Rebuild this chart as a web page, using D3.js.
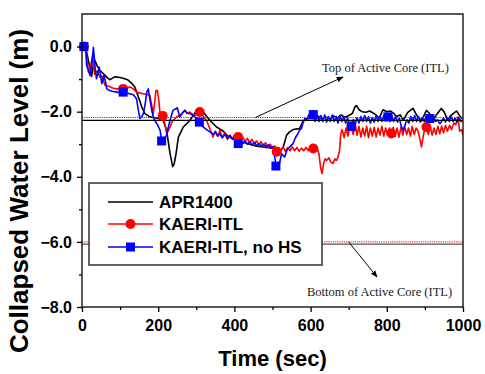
<!DOCTYPE html>
<html>
<head>
<meta charset="utf-8">
<script src="https://cdn.jsdelivr.net/npm/d3@7"></script>
<style>
  html, body { margin: 0; padding: 0; background: #fff; }
  svg { display: block; }
</style>
</head>
<body>
<svg id="chart" width="485" height="374"></svg>
<script>
// Collapsed water level transients, [time (s), level (m)]
const apr1400 = [
  [5,0.0],[10,-0.05],[18,-0.5],[25,-0.92],[30,-0.55],[34,-0.43],[40,-0.6],[47,-0.73],[55,-0.82],[65,-0.94],
  [73,-1.02],[80,-0.97],[87,-0.93],[100,-0.95],[110,-0.98],[121,-1.03],[130,-1.12],[139,-1.25],[148,-1.55],
  [157,-1.86],[165,-2.06],[178,-2.16],[199,-2.2],[213,-2.27],[222,-2.57],[231,-3.28],[238,-3.69],[242,-3.6],
  [247,-3.28],[253,-2.78],[266,-2.47],[283,-2.27],[301,-1.96],[309,-1.88],[318,-2.01],[336,-2.27],[353,-2.47],
  [371,-2.6],[380,-2.72],[390,-2.8],[400,-2.85],[412,-2.9],[425,-2.95],[440,-3.0],[455,-3.05],[470,-3.08],
  [485,-3.1],[500,-3.12],[512,-3.15],[519,-3.2],[528,-3.1],[537,-2.72],[545,-2.62],[554,-2.55],[571,-2.52],
  [580,-2.3],[589,-2.22],[600,-2.2],[610,-2.22],[620,-2.14],[630,-2.22],[640,-2.16],[650,-2.22],[660,-2.13],
  [670,-2.2],[680,-2.1],[690,-2.18],[700,-2.12],[710,-2.05],[716,-1.86],[720,-1.81],[728,-1.95],[735,-2.0],
  [745,-2.02],[755,-1.98],[765,-2.05],[772,-2.1],[780,-2.2],[790,-1.94],[800,-2.0],[810,-1.98],[818,-2.05],
  [825,-2.15],[835,-2.1],[843,-2.27],[855,-2.02],[862,-1.96],[869,-1.9],[878,-2.1],[891,-2.28],[904,-1.96],
  [912,-2.05],[921,-2.28],[930,-2.1],[943,-1.9],[950,-2.0],[960,-2.25],[968,-2.12],[975,-2.05],[983,-1.98],
  [990,-2.1],[997,-2.22]
];

const kaeriItl = [
  [5,0.0],[10,-0.05],[17,-0.79],[22,-0.6],[28,-0.3],[33,-0.85],[40,-0.75],[47,-0.94],[53,-0.9],[60,-1.19],
  [70,-1.22],[82,-1.28],[92,-1.3],[100,-1.32],[108,-1.3],[118,-1.27],[126,-1.24],[135,-1.3],[143,-1.4],
  [152,-1.43],[161,-1.45],[170,-1.47],[178,-1.5],[183,-1.8],[187,-2.06],[191,-1.7],[194,-1.35],[198,-1.35],
  [202,-1.7],[205,-2.06],[212,-2.13],[218,-2.4],[222,-2.67],[226,-2.6],[231,-2.47],[237,-2.3],[244,-2.21],
  [250,-2.15],[257,-2.11],[263,-2.05],[270,-1.96],[276,-2.05],[283,-2.01],[290,-2.08],[296,-2.11],[303,-2.05],
  [309,-2.01],[316,-2.1],[322,-2.2],[327,-2.27],[333,-2.45],[338,-2.6],[344,-2.78],[350,-2.6],[356,-2.75],
  [362,-2.57],[368,-2.8],[375,-2.65],[382,-2.85],[388,-2.72],[395,-2.82],[402,-2.7],[410,-2.78],[416,-2.9],
  [422,-2.78],[428,-2.92],[434,-2.82],[440,-2.95],[446,-2.85],[452,-2.98],[458,-2.9],[464,-3.02],[470,-2.92],
  [476,-3.05],[482,-2.95],[488,-3.1],[494,-3.0],[500,-3.12],[506,-3.05],[511,-3.23],[516,-3.1],[522,-3.2],
  [528,-3.08],[534,-3.22],[540,-3.1],[546,-3.2],[552,-3.08],[558,-3.2],[564,-3.1],[570,-3.22],[576,-3.12],
  [582,-3.2],[588,-3.1],[594,-3.2],[600,-3.12],[607,-3.13],[613,-3.2],[618,-3.15],[622,-3.3],[626,-3.7],
  [630,-3.9],[634,-3.6],[638,-3.45],[642,-3.5],[648,-3.42],[653,-3.55],[659,-3.59],[664,-3.45],[668,-3.5],
  [672,-3.39],[676,-3.2],[679,-2.7],[683,-2.55],[688,-2.8],[693,-2.5],[698,-2.75],[703,-2.45],[707,-2.45],
  [712,-2.7],[717,-2.4],[722,-2.72],[727,-2.45],[732,-2.78],[737,-2.5],[742,-2.75],[747,-2.45],[752,-2.8],
  [757,-2.5],[762,-2.75],[767,-2.48],[772,-2.78],[777,-2.5],[782,-2.72],[787,-2.45],[792,-2.75],[797,-2.5],
  [802,-2.72],[807,-2.5],[812,-2.67],[817,-2.48],[822,-2.75],[827,-2.5],[832,-2.78],[837,-2.48],[842,-2.72],
  [847,-2.45],[852,-2.7],[857,-2.5],[862,-2.75],[867,-2.45],[872,-2.7],[877,-2.5],[882,-2.6],[887,-2.85],
  [891,-3.08],[895,-2.8],[900,-2.5],[904,-2.47],[909,-2.7],[914,-2.45],[919,-2.72],[924,-2.5],[929,-2.7],
  [934,-2.45],[939,-2.68],[944,-2.45],[949,-2.65],[954,-2.42],[959,-2.6],[965,-2.42],[970,-2.55],[976,-2.35],
  [981,-2.4],[987,-2.16],[991,-2.6],[996,-2.55],[1000,-2.7]
];

const kaeriItlNoHs = [
  [5,0.0],[10,-0.1],[12,-0.58],[16,-0.7],[21,-0.89],[25,-0.6],[30,-0.02],[34,-0.6],[38,-0.99],[42,-0.8],
  [45,-0.63],[49,-0.9],[52,-1.14],[55,-1.0],[58,-0.89],[62,-1.1],[65,-1.3],[72,-1.35],[82,-1.38],[92,-1.4],
  [100,-1.42],[108,-1.4],[118,-1.43],[126,-1.45],[135,-1.48],[143,-1.6],[148,-1.96],[152,-2.21],[157,-2.15],
  [161,-2.06],[166,-1.75],[170,-1.4],[174,-1.3],[178,-1.6],[183,-1.96],[187,-2.15],[191,-2.27],[198,-2.4],
  [205,-2.57],[209,-2.9],[215,-2.85],[222,-2.72],[226,-2.5],[231,-2.27],[235,-2.1],[239,-1.96],[245,-1.92],
  [250,-1.88],[254,-2.05],[257,-2.16],[263,-2.05],[270,-1.96],[276,-2.05],[283,-2.06],[290,-2.1],[296,-2.16],
  [302,-2.2],[308,-2.32],[313,-2.4],[318,-2.47],[327,-2.55],[336,-2.62],[344,-2.7],[350,-2.62],[356,-2.75],
  [362,-2.68],[368,-2.8],[375,-2.7],[382,-2.82],[388,-2.74],[395,-2.85],[402,-2.78],[410,-2.98],[416,-2.88],
  [422,-2.98],[428,-2.9],[434,-3.0],[441,-2.92],[447,-3.02],[453,-2.95],[459,-3.05],[465,-2.98],[471,-3.06],
  [477,-3.0],[483,-3.08],[489,-3.02],[495,-3.1],[502,-3.08],[506,-3.4],[509,-3.67],[515,-3.74],[520,-3.5],
  [524,-3.29],[528,-3.35],[532,-3.39],[537,-3.2],[541,-3.13],[548,-3.05],[554,-2.98],[560,-2.8],[567,-2.67],
  [572,-2.55],[576,-2.52],[580,-2.35],[585,-2.21],[590,-2.25],[595,-2.1],[600,-2.2],[607,-2.09],[612,-2.3],
  [617,-2.1],[622,-2.3],[627,-2.12],[632,-2.3],[637,-2.1],[642,-2.32],[647,-2.15],[652,-2.3],[657,-2.1],
  [662,-2.3],[667,-2.15],[672,-2.35],[677,-2.12],[682,-2.3],[687,-2.15],[692,-2.35],[697,-2.2],[702,-2.4],
  [707,-2.45],[712,-2.25],[717,-2.4],[722,-2.18],[727,-2.35],[732,-2.15],[737,-2.3],[742,-2.12],[747,-2.3],
  [752,-2.15],[757,-2.35],[762,-2.18],[767,-2.32],[772,-2.12],[777,-2.3],[782,-2.15],[787,-2.3],[792,-2.12],
  [797,-2.28],[803,-2.16],[808,-2.3],[813,-2.12],[818,-2.3],[823,-2.15],[828,-2.32],[833,-2.2],[838,-2.45],
  [843,-2.57],[848,-2.4],[853,-2.25],[858,-2.35],[863,-2.15],[868,-2.3],[873,-2.12],[878,-2.3],[883,-2.15],
  [888,-2.32],[893,-2.18],[898,-2.3],[903,-2.15],[908,-2.3],[913,-2.21],[918,-2.32],[923,-2.15],[928,-2.3],
  [933,-2.25],[939,-2.37],[944,-2.3],[949,-2.2],[954,-2.32],[959,-2.18],[964,-2.3],[969,-2.15],[974,-2.3],
  [979,-2.2],[984,-2.32],[989,-2.18],[994,-2.3],[1000,-2.27]
];

// Times at which symbols are placed on the two KAERI-ITL curves
const kaeriMarkTimes = [5,108,212,309,410,511,607,707,812,904];
const noHsMarkTimes  = [5,108,209,308,410,509,607,707,803,913];

// Core elevation reference levels (m)
const topCoreApr = -2.27, topCoreItl = -2.18;
const botCoreApr = -6.07, botCoreItl = -6.0;

const seriesNames = ["APR1400", "KAERI-ITL", "KAERI-ITL, no HS"];
const seriesColors = ["#000000", "#ff0000", "#0000ff"];

const xTicks = [0,200,400,600,800,1000];
const xMinor = [100,300,500,700,900];
const yTicks = [0,-2,-4,-6,-8];
const yMinor = [-1,-3,-5,-7];

(function draw() {
  const svg = d3.select("#chart");
  const pL = 82, pR = 463, pT = 14, pB = 307;

  const x = d3.scaleLinear().domain([0, 1000]).range([pL, pR]);
  const y = d3.scaleLinear().domain([-8, 1]).range([pB, pT]);

  const defs = svg.append("defs");
  defs.append("clipPath").attr("id", "plotClip")
    .append("rect").attr("x", pL).attr("y", pT).attr("width", pR - pL).attr("height", pB - pT);
  defs.append("marker")
    .attr("id", "arrowHead").attr("viewBox", "0 0 10 10")
    .attr("refX", 9).attr("refY", 5)
    .attr("markerWidth", 7).attr("markerHeight", 7)
    .attr("markerUnits", "userSpaceOnUse")
    .attr("orient", "auto")
    .append("path").attr("d", "M0,1 L10,5 L0,9 Z").attr("fill", "#000");

  const g = svg.append("g");
  const line = d3.line().x(d => x(d[0])).y(d => y(d[1]));

  // curves
  const curves = g.append("g").attr("clip-path", "url(#plotClip)");
  [apr1400, kaeriItl, kaeriItlNoHs].forEach((data, i) => {
    curves.append("path").datum(data)
      .attr("d", line)
      .attr("fill", "none")
      .attr("stroke", seriesColors[i])
      .attr("stroke-width", 1.6)
      .attr("stroke-linejoin", "round");
  });

  // reference levels
  function hLine(v, color, width, dash) {
    const l = g.append("line")
      .attr("x1", x(0)).attr("x2", x(1000))
      .attr("y1", y(v)).attr("y2", y(v))
      .attr("stroke", color).attr("stroke-width", width);
    if (dash) l.attr("stroke-dasharray", dash);
  }
  hLine(topCoreApr, "#000", 1.2);
  hLine(topCoreItl, "#ff0000", 1, "1.2,1");
  hLine(botCoreApr, "#555", 1.2);
  hLine(botCoreItl, "#ff0000", 1, "1.2,1");

  // symbols
  const lookup = (data, t) => data.find(d => d[0] === t);
  g.append("g").selectAll("circle")
    .data(kaeriMarkTimes.map(t => lookup(kaeriItl, t)))
    .join("circle")
    .attr("cx", d => x(d[0])).attr("cy", d => y(d[1]))
    .attr("r", 5).attr("fill", "#ff0000");
  g.append("g").selectAll("rect")
    .data(noHsMarkTimes.map(t => lookup(kaeriItlNoHs, t)))
    .join("rect")
    .attr("x", d => x(d[0]) - 4.5).attr("y", d => y(d[1]) - 4.5)
    .attr("width", 9).attr("height", 9).attr("fill", "#0000ff");

  // frame
  g.append("rect").attr("x", pL).attr("y", pT)
    .attr("width", pR - pL).attr("height", pB - pT)
    .attr("fill", "none").attr("stroke", "#000").attr("stroke-width", 1.3);

  // axes
  const xAxis = d3.axisBottom(x).tickValues(xTicks).tickFormat(d3.format("d"))
    .tickSize(5).tickPadding(8);
  const xAxisMinor = d3.axisBottom(x).tickValues(xMinor).tickFormat("").tickSize(3);
  const yAxis = d3.axisLeft(y).tickValues(yTicks).tickFormat(d3.format(".1f"))
    .tickSize(5).tickPadding(5);
  const yAxisMinor = d3.axisLeft(y).tickValues(yMinor).tickFormat("").tickSize(3);

  function styleAxis(sel) {
    sel.select(".domain").remove();
    sel.selectAll("line").attr("stroke", "#000").attr("stroke-width", 1.3);
    sel.selectAll("text")
      .attr("fill", "#000")
      .style("font-family", "'Liberation Sans', Arial, sans-serif")
      .style("font-weight", "bold")
      .style("font-size", "16px");
  }
  g.append("g").attr("transform", `translate(0,${pB})`).call(xAxis).call(styleAxis);
  g.append("g").attr("transform", `translate(0,${pB})`).call(xAxisMinor).call(styleAxis);
  g.append("g").attr("transform", `translate(${pL},0)`).call(yAxis).call(styleAxis);
  g.append("g").attr("transform", `translate(${pL},0)`).call(yAxisMinor).call(styleAxis);

  // axis titles
  g.append("text")
    .attr("x", (pL + pR) / 2).attr("y", 366)
    .attr("text-anchor", "middle")
    .style("font-family", "'Liberation Sans', Arial, sans-serif")
    .style("font-weight", "bold").style("font-size", "22px")
    .text("Time (sec)");
  g.append("text")
    .attr("transform", "translate(28,191) rotate(-90)")
    .attr("text-anchor", "middle")
    .style("font-family", "'Liberation Sans', Arial, sans-serif")
    .style("font-weight", "bold").style("font-size", "26px")
    .text("Collapsed Water Level (m)");

  // annotations
  function note(txt, tx, ty, x1, y1, x2, y2) {
    g.append("line").attr("x1", x1).attr("y1", y1).attr("x2", x2).attr("y2", y2)
      .attr("stroke", "#000").attr("stroke-width", 1)
      .attr("marker-end", "url(#arrowHead)");
    g.append("text").attr("x", tx).attr("y", ty)
      .style("font-family", "'Liberation Serif', 'Times New Roman', serif")
      .style("font-size", "12.5px").attr("fill", "#222")
      .text(txt);
  }
  note("Top of Active Core (ITL)", 322, 72, x(455), y(topCoreItl), 343, 77);
  note("Bottom of Active Core (ITL)", 307, 296, x(700), y(botCoreItl), 377, 277);

  // legend
  const lg = g.append("g");
  lg.append("rect").attr("x", 89).attr("y", 183).attr("width", 233).attr("height", 82)
    .attr("fill", "#fff").attr("stroke", "#333").attr("stroke-width", 1.5);
  const rowsY = [202, 224, 247];
  seriesNames.forEach((name, i) => {
    lg.append("line").attr("x1", 108).attr("x2", 153).attr("y1", rowsY[i]).attr("y2", rowsY[i])
      .attr("stroke", seriesColors[i]).attr("stroke-width", 1.6);
    if (i === 1) lg.append("circle").attr("cx", 130.5).attr("cy", rowsY[i]).attr("r", 5).attr("fill", seriesColors[i]);
    if (i === 2) lg.append("rect").attr("x", 126).attr("y", rowsY[i] - 4.5).attr("width", 9).attr("height", 9).attr("fill", seriesColors[i]);
    lg.append("text").attr("x", 159).attr("y", rowsY[i]).attr("dy", "0.36em")
      .style("font-family", "'Liberation Sans', Arial, sans-serif")
      .style("font-weight", "bold").style("font-size", "17px")
      .text(name);
  });
})();
</script>
</body>
</html>
